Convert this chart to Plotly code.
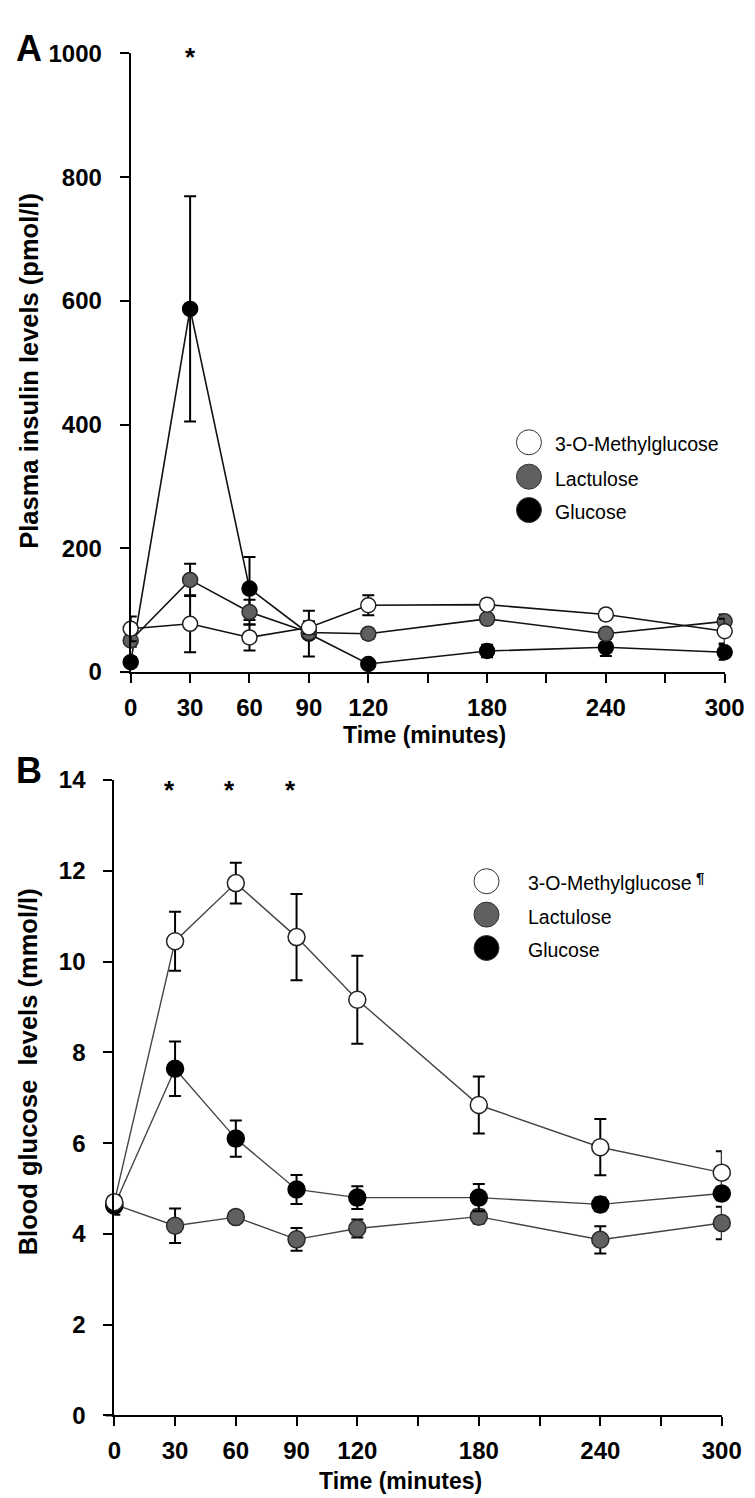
import plotly.graph_objects as go

# ---------------- data ----------------
time_min = [0, 30, 60, 90, 120, 180, 240, 300]
x_tick_vals = [0, 30, 60, 90, 120, 150, 180, 210, 240, 270, 300]
x_tick_text = ["0", "30", "60", "90", "120", "", "180", "", "240", "", "300"]

# Panel A: plasma insulin (pmol/l)
omg_ins = [70, 78, 56, 72, 108, 109, 93, 66]
omg_ins_err = [20, 46, 21, 10, 16, 8, 8, 20]
lac_ins = [51, 149, 97, 64, 62, 86, 62, 82]
lac_ins_err = [10, 26, 20, 8, 8, 8, 8, 11]
glu_ins = [16, 587, 135, 62, 13, 34, 40, 32]
glu_ins_err = [8, 182, 51, 37, 6, 10, 14, 12]

# Panel B: blood glucose (mmol/l)
omg_glc = [4.70, 10.45, 11.73, 10.54, 9.16, 6.84, 5.91, 5.35]
omg_glc_err = [0.15, 0.65, 0.45, 0.95, 0.97, 0.63, 0.62, 0.47]
lac_glc = [4.65, 4.18, 4.37, 3.88, 4.12, 4.38, 3.87, 4.24]
lac_glc_err = [0.10, 0.38, 0.10, 0.25, 0.20, 0.15, 0.30, 0.36]
glu_glc = [4.62, 7.64, 6.10, 4.98, 4.80, 4.80, 4.65, 4.89]
glu_glc_err = [0.20, 0.60, 0.40, 0.32, 0.25, 0.30, 0.15, 0.15]

series_names = ["3-O-Methylglucose", "Lactulose", "Glucose"]
star_times_A = [30]
star_times_B = [30, 60, 90]

# ---------------- styling ----------------
W, H = 755, 1498
FONT = "Liberation Sans, Arial, sans-serif"
FILL = {"3-O-Methylglucose": "#ffffff", "Lactulose": "#606060", "Glucose": "#000000"}
EDGE = {"3-O-Methylglucose": "#222222", "Lactulose": "#2a2a2a", "Glucose": "#000000"}


def px_x(p):
    return p / W


def px_y(p):
    return 1 - p / H


fig = go.Figure()


def add_series(x, y, err, name, xa, ya, msize, lcolor, lwidth):
    fig.add_trace(go.Scatter(
        x=x, y=y, name=name, mode="lines+markers",
        xaxis=xa, yaxis=ya, showlegend=False, cliponaxis=False,
        line=dict(color=lcolor, width=lwidth),
        marker=dict(size=msize, color=FILL[name], symbol="circle",
                    line=dict(color=EDGE[name], width=1.5)),
        error_y=dict(type="data", array=err, visible=True,
                     color="#000000", thickness=2, width=6),
    ))


# Panel A (draw glucose first, OMG on top)
add_series(time_min, glu_ins, glu_ins_err, "Glucose", "x", "y", 15, "#111111", 1.6)
add_series(time_min, lac_ins, lac_ins_err, "Lactulose", "x", "y", 15, "#111111", 1.6)
add_series(time_min, omg_ins, omg_ins_err, "3-O-Methylglucose", "x", "y", 15, "#111111", 1.6)

# Panel B
add_series(time_min, lac_glc, lac_glc_err, "Lactulose", "x2", "y2", 17, "#444444", 1.4)
add_series(time_min, glu_glc, glu_glc_err, "Glucose", "x2", "y2", 17, "#444444", 1.4)
add_series(time_min, omg_glc, omg_glc_err, "3-O-Methylglucose", "x2", "y2", 17, "#444444", 1.4)

tickfont = dict(family=FONT, size=24, color="#000000", weight="bold")
common_x = dict(range=[0, 300], tickvals=x_tick_vals, ticktext=x_tick_text,
                showline=True, linecolor="#000000", linewidth=2,
                ticks="outside", ticklen=9, tickwidth=2, tickcolor="#000000",
                showgrid=False, zeroline=False, tickfont=tickfont,
                ticklabelstandoff=4, fixedrange=True)
common_y = dict(showline=True, linecolor="#000000", linewidth=2,
                ticks="outside", ticklen=9, tickwidth=2, tickcolor="#000000",
                showgrid=False, zeroline=False, tickfont=tickfont,
                ticklabelstandoff=13, fixedrange=True)

fig.update_layout(
    width=W, height=H,
    margin=dict(l=0, r=0, t=0, b=0),
    paper_bgcolor="#ffffff", plot_bgcolor="#ffffff",
    xaxis=dict(domain=[px_x(120), px_x(736)], anchor="y", **common_x),
    yaxis=dict(domain=[px_y(662), px_y(32)], anchor="x", range=[0, 1000],
               tickvals=[0, 200, 400, 600, 800, 1000], **common_y),
    xaxis2=dict(domain=[px_x(103), px_x(733)], anchor="y2", **common_x),
    yaxis2=dict(domain=[px_y(1419), px_y(772)], anchor="x2", range=[0, 14],
                tickvals=[0, 2, 4, 6, 8, 10, 12, 14], **common_y),
    showlegend=False,
)

# small left extensions of the x axis lines
fig.add_shape(type="line", xref="paper", yref="paper",
              x0=px_x(110), x1=px_x(120), y0=px_y(662), y1=px_y(662),
              line=dict(color="#000000", width=2))
fig.add_shape(type="line", xref="paper", yref="paper",
              x0=px_x(94), x1=px_x(103), y0=px_y(1419), y1=px_y(1419),
              line=dict(color="#000000", width=2))

ann = []
bold = lambda s: dict(family=FONT, size=s, color="#000000", weight="bold")
# Panel letters
ann.append(dict(text="A", x=px_x(-1), y=px_y(4), xref="paper", yref="paper",
                xanchor="left", yanchor="top", showarrow=False, font=bold(36)))
ann.append(dict(text="B", x=px_x(-1), y=px_y(739), xref="paper", yref="paper",
                xanchor="left", yanchor="top", showarrow=False, font=bold(36)))
# Axis titles
ann.append(dict(text="Plasma insulin levels (pmol/l)", textangle=-90,
                x=px_x(15), y=px_y(538), xref="paper", yref="paper",
                xanchor="center", yanchor="bottom", showarrow=False, font=bold(25.5)))
ann.append(dict(text="Blood glucose&nbsp; levels (mmol/l)", textangle=-90,
                x=px_x(13), y=px_y(1258), xref="paper", yref="paper",
                xanchor="center", yanchor="bottom", showarrow=False, font=bold(25.5)))
ann.append(dict(text="Time (minutes)", x=px_x(425), y=px_y(726),
                xref="paper", yref="paper", xanchor="center", yanchor="middle",
                showarrow=False, font=bold(23)))
ann.append(dict(text="Time (minutes)", x=px_x(400), y=px_y(1486),
                xref="paper", yref="paper", xanchor="center", yanchor="middle",
                showarrow=False, font=bold(23)))
# significance stars
for t in star_times_A:
    ann.append(dict(text="*", x=t, y=px_y(36), xref="x", yref="paper",
                    xanchor="center", yanchor="middle", showarrow=False,
                    font=bold(26)))
for t in star_times_B:
    ann.append(dict(text="*", x=t, y=px_y(782), xref="x2", yref="paper",
                    xanchor="center", yanchor="middle", showarrow=False,
                    xshift=-6, font=bold(26)))

# Manual legends
def add_legend(cx, cys, tx):
    for name, cy in zip(series_names, cys):
        fig.add_shape(type="circle", xref="paper", yref="paper",
                      xsizemode="pixel", ysizemode="pixel",
                      xanchor=px_x(cx), yanchor=px_y(cy),
                      x0=-12.5, x1=12.5, y0=-12.5, y1=12.5,
                      fillcolor=FILL[name], line=dict(color="#333333", width=1))
        ann.append(dict(text=name, x=px_x(tx), y=px_y(cy + 2),
                        xref="paper", yref="paper", xanchor="left",
                        yanchor="middle", showarrow=False,
                        font=dict(family=FONT, size=19.5, color="#000000")))


add_legend(533, [428, 463, 497], 558)
add_legend(489, [875, 909, 943], 530)
ann.append(dict(text="¶", x=px_x(704), y=px_y(871), xref="paper", yref="paper",
                xanchor="left", yanchor="middle", showarrow=False,
                font=bold(15)))

fig.update_layout(annotations=ann)
fig.write_html("out.html")
